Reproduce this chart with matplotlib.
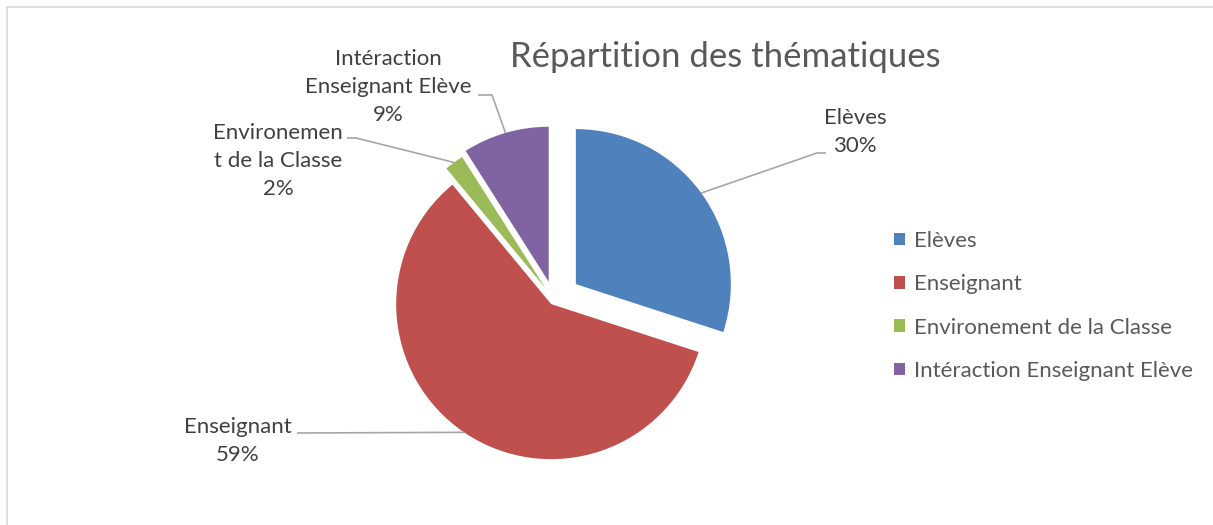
import numpy as np
import matplotlib.pyplot as plt
from matplotlib.patches import Rectangle

categories = ["Elèves", "Enseignant", "Environement de la Classe", "Intéraction Enseignant Elève"]
values = [30, 59, 2, 9]
label_texts = ["Elèves", "Enseignant", "Environemen\nt de la Classe", "Intéraction\nEnseignant Elève"]
colors = ["#4F81BD", "#C0504D", "#9BBB59", "#8064A2"]

W, H = 1213, 525
plt.rcParams['font.family'] = ['Lato', 'DejaVu Sans']

def Y(y):
    # picture rows -> axes units (y up)
    return H - y

fig = plt.figure(figsize=(W / 100, H / 100), dpi=100)
ax = fig.add_axes([0, 0, 1, 1])

explode = [27, 5, 15, 19]
radius = 155
wedges, _ = ax.pie(values, colors=colors, startangle=90, counterclock=False,
                   explode=explode, radius=radius, center=(554, Y(300)),
                   wedgeprops=dict(linewidth=0))

ax.set_xlim(0, W)
ax.set_ylim(0, H)
ax.set_aspect('equal')
ax.axis('off')

# chart frame
ax.add_patch(Rectangle((7, Y(1000)), 2000, 1000 - 7, fill=False,
                       edgecolor="#D9D9D9", lw=1.2))

ax.text(725, Y(57), "Répartition des thématiques", ha='center', va='center',
        fontsize=25, color="#595959")

# data labels: text centre and leader line path (picture coords)
label_pos = [(855, 132), (238, 441), (278, 161), (388, 87)]
leaders = [[(817, 153), (826, 153)],
           [(297, 433)],
           [(356, 138), (347, 138)],
           [(492, 95), (478, 95)]]

total = sum(values)
for w, txt, v, pos, path in zip(wedges, label_texts, values, label_pos, leaders):
    mid = np.deg2rad((w.theta1 + w.theta2) / 2)
    cx, cy = w.center
    ax0 = cx + w.r * np.cos(mid)
    ay0 = cy + w.r * np.sin(mid)
    xs = [ax0] + [p[0] for p in path]
    ys = [ay0] + [Y(p[1]) for p in path]
    ax.plot(xs, ys, color="#A6A6A6", lw=1.2, solid_capstyle='butt')
    ax.text(pos[0], Y(pos[1]), f"{txt}\n{round(100 * v / total)}%",
            ha='center', va='center', fontsize=16, color="#404040",
            linespacing=1.5)

leg = ax.legend(wedges, categories, loc='upper left',
                bbox_to_anchor=(885 / W, 1 - 222 / H),
                bbox_transform=fig.transFigure, frameon=False,
                fontsize=16, handlelength=0.5, handleheight=0.5,
                handletextpad=0.4, labelspacing=1.05, borderaxespad=0)
for t in leg.get_texts():
    t.set_color("#595959")

fig.savefig("out.png", dpi=100)
